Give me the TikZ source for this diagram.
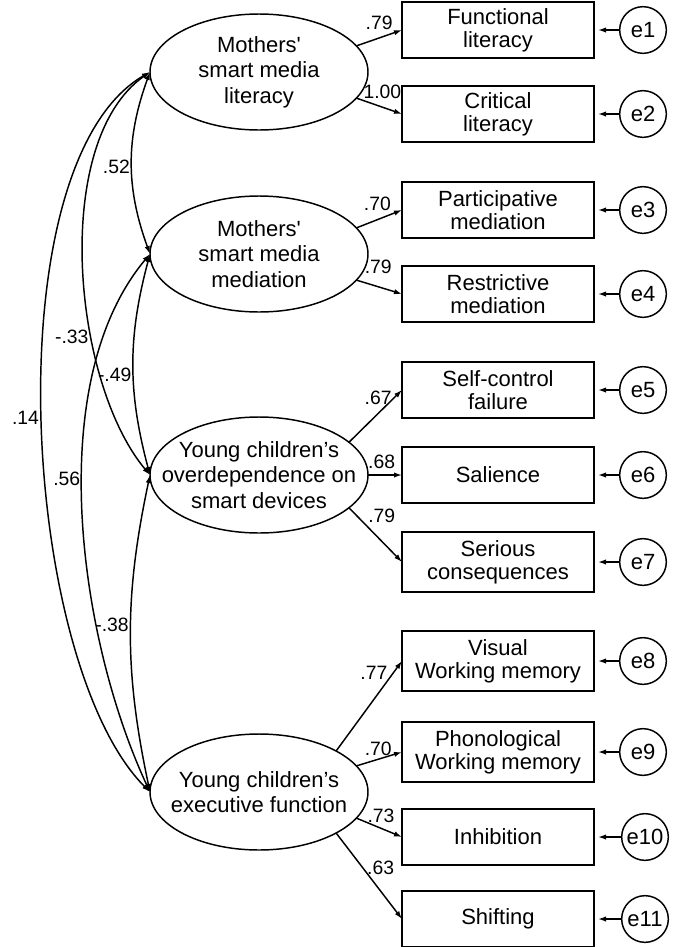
\documentclass[tikz,border=0pt]{standalone}
\usepackage{fontspec}
\setmainfont{Liberation Sans}
\usetikzlibrary{shapes.geometric,arrows.meta}

\begin{document}
\begin{tikzpicture}[x=0.75pt, y=-0.75pt, >={Latex[length=6pt,width=4pt]}, line width=1.1pt,
    latent/.style={draw, ellipse, minimum width=163.5pt, minimum height=87pt, inner xsep=-20pt, inner ysep=0pt, outer sep=0pt, align=center, font=\fontsize{16.5}{19}\selectfont},
    observed/.style={draw, rectangle, minimum width=144pt, minimum height=42pt, inner sep=0pt, outer sep=0pt, align=center, font=\fontsize{16.5}{17.5}\selectfont},
    err/.style={draw, circle, minimum size=35pt, inner sep=0pt, outer sep=0pt, font=\fontsize{16.5}{17.5}\selectfont},
    coef/.style={inner sep=1pt, font=\fontsize{14.5}{15}\selectfont}]
    \useasboundingbox (0,0) rectangle (678,947);

    % latent variables
    \node[latent] (lit) at (259,72) {Mothers\textquotesingle\\smart media\\literacy};
    \node[latent] (med) at (259,254) {Mothers\textquotesingle\\smart media\\mediation};
    \node[latent] (dep) at (259,475) {Young children’s\\overdependence on\\smart devices};
    \node[latent] (ef) at (259,792) {Young children’s\\executive function};

    % indicators
    \node[observed] (fl) at (498,30) {Functional\\literacy};
    \node[observed] (cl) at (498,114) {Critical\\literacy};
    \node[observed] (pm) at (498,210) {Participative\\mediation};
    \node[observed] (rm) at (498,294) {Restrictive\\mediation};
    \node[observed] (scf) at (498,390) {Self-control\\failure};
    \node[observed] (sal) at (498,475) {Salience};
    \node[observed, minimum height=45pt] (sc) at (498,562) {Serious\\consequences};
    \node[observed, minimum height=45pt] (vwm) at (498,661) {Visual\\Working memory};
    \node[observed, minimum height=45pt] (pwm) at (498,752) {Phonological\\Working memory};
    \node[observed] (inh) at (498,837) {Inhibition};
    \node[observed] (shf) at (498,919) {Shifting};

    % error terms
    \node[err] (e1) at (643,30) {e1};
    \node[err] (e2) at (643,114) {e2};
    \node[err] (e3) at (643,210) {e3};
    \node[err] (e4) at (643,294) {e4};
    \node[err] (e5) at (643,390) {e5};
    \node[err] (e6) at (643,475) {e6};
    \node[err] (e7) at (643,562) {e7};
    \node[err] (e8) at (643,661) {e8};
    \node[err] (e9) at (643,752) {e9};
    \node[err] (e10) at (645,837) {e10};
    \node[err] (e11) at (645,919) {e11};

    \draw[->, shorten >=3pt] (e1) -- (fl);
    \draw[->, shorten >=3pt] (e2) -- (cl);
    \draw[->, shorten >=3pt] (e3) -- (pm);
    \draw[->, shorten >=3pt] (e4) -- (rm);
    \draw[->, shorten >=3pt] (e5) -- (scf);
    \draw[->, shorten >=3pt] (e6) -- (sal);
    \draw[->, shorten >=3pt] (e7) -- (sc);
    \draw[->, shorten >=3pt] (e8) -- (vwm);
    \draw[->, shorten >=3pt] (e9) -- (pwm);
    \draw[->, shorten >=3pt] (e10) -- (inh);
    \draw[->, shorten >=3pt] (e11) -- (shf);

    % factor loadings
    \draw[->] (lit.15) -- node[coef, pos=0.5, above=5pt] {.79} (fl.west);
    \draw[->] (lit.-15) -- node[coef, pos=0.57, above=5pt] {1.00} (cl.west);
    \draw[->] (med.15) -- node[coef, pos=0.46, above=5pt] {.70} (pm.west);
    \draw[->] (med.-15) -- node[coef, pos=0.48, above=8pt] {.79} (rm.west);
    \draw[->] (dep.20) -- node[coef, pos=0.55, above=5pt] {.67} (scf.west);
    \draw[->] (dep.east) -- node[coef, pos=0.4, above=3pt] {.68} (sal.west);
    \draw[->] (dep.-20) -- node[coef, pos=0.15, right=7pt] {.79} (sc.west);
    \draw[->] (ef.28) -- node[coef, pos=0.87, left=3pt] {.77} (vwm.west);
    \draw[->] (ef.15) -- node[coef, pos=0.48, above=1pt] {.70} (pwm.west);
    \draw[->] (ef.-15) -- node[coef, pos=0.54, above=3pt] {.73} (inh.west);
    \draw[->] (ef.-28) -- node[coef, pos=0.4, right=2pt] {.63} (shf.west);

    % correlations
    \draw[<->] (lit.west) to[out=250, in=110] node[coef, pos=0.52, left] {.52} (med.west);
    \draw[<->] (lit.west) to[out=215, in=130, looseness=0.77] node[coef, pos=0.65, left=1pt] {-.33} (dep.west);
    \draw[<->] (lit.west) to[out=210, in=135, looseness=0.65] node[coef, pos=0.5, left=1pt] {.14} (ef.west);
    \draw[<->] (med.west) to[out=255, in=105] node[coef, pos=0.55, left] {-.49} (dep.west);
    \draw[<->] (med.west) to[out=230, in=115, looseness=0.8] node[coef, pos=0.44, left] {.56} (ef.west);
    \draw[<->] (dep.west) to[out=258, in=102] node[coef, pos=0.47, left] {-.38} (ef.west);
\end{tikzpicture}
\end{document}
